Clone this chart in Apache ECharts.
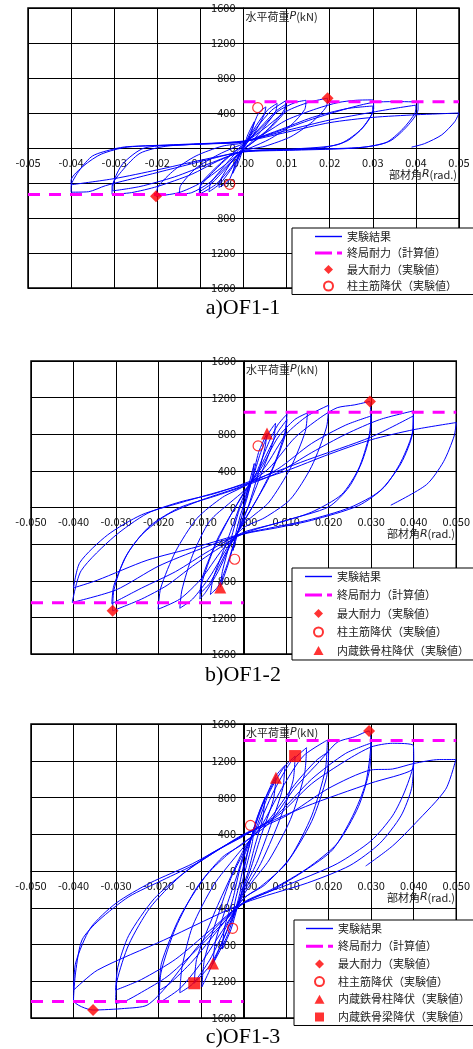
<!DOCTYPE html>
<html>
<head>
<meta charset="utf-8">
<script src="https://cdn.jsdelivr.net/npm/echarts@6/dist/echarts.min.js"></script>
<style>
html,body{margin:0;padding:0;background:#fff}
#chart{width:473px;height:1049px}
</style>
</head>
<body>
<div id="chart"></div>
<script>
// ---- tick labels ----
const xTicksA = ['-0.05','-0.04','-0.03','-0.02','-0.01','0.00','0.01','0.02','0.03','0.04','0.05'];
const xTicksBC = ['-0.050','-0.040','-0.030','-0.020','-0.010','0.000','0.010','0.020','0.030','0.040','0.050'];
const yTicks = ['-1600','-1200','-800','-400','0','400','800','1200','1600'];

// ---- series names ----
const nameTest = '実験結果';
const nameUlt = '終局耐力（計算値）';
const nameMax = '最大耐力（実験値）';
const nameBar = '柱主筋降伏（実験値）';
const nameCol = '内蔵鉄骨柱降伏（実験値）';
const nameBeam = '内蔵鉄骨梁降伏（実験値）';

const captions = ['a)OF1-1', 'b)OF1-2', 'c)OF1-3'];

// ---- calculated ultimate strength (kN) ----
const ultA = 530, ultB = 1040, ultC = 1420;

// ---- load–drift hysteresis, R (rad), P (kN) ----
const hystA = [
  [[0,0],[0.001,150],[0.0025,300],[0.002,200],[0.0008,60],[0,0],[-0.001,-140],[-0.0025,-290],[-0.002,-190],[-0.0008,-50],[0,10]],
  [[0.002,220],[0.0035,400],[0.0052,470],[0.0048,380],[0.0025,170],[0,0],[-0.002,-210],[-0.0035,-380],[-0.0057,-450],[-0.0053,-360],[-0.0028,-160],[0,20]],
  [[0.003,260],[0.0055,430],[0.0078,510],[0.0074,410],[0.004,190],[0.0015,50],[0,-10],[-0.003,-250],[-0.0055,-410],[-0.008,-500],[-0.0076,-400],[-0.004,-180],[-0.0015,-40],[0,30]],
  [[0.003,230],[0.0065,430],[0.0098,540],[0.0095,440],[0.006,230],[0.002,60],[0,-20],[-0.003,-230],[-0.0065,-420],[-0.0103,-530],[-0.0099,-430],[-0.006,-220],[-0.002,-40],[0,40]],
  [[0.004,240],[0.0075,420],[0.0098,500],[0.0094,400],[0.005,170],[0,-20],[-0.004,-230],[-0.0075,-410],[-0.0102,-500],[-0.0098,-400],[-0.005,-160],[0,40]],
  [[0.004,220],[0.008,420],[0.012,520],[0.0145,545],[0.0142,440],[0.011,260],[0.006,100],[0.002,10],[0,-30],[-0.004,-210],[-0.008,-400],[-0.012,-510],[-0.0149,-530],[-0.0146,-430],[-0.011,-230],[-0.006,-80],[-0.002,10],[0,50]],
  [[0.005,230],[0.01,420],[0.015,520],[0.0195,570],[0.0192,470],[0.016,300],[0.011,130],[0.005,20],[0,-35],[-0.005,-220],[-0.01,-400],[-0.015,-510],[-0.0203,-552],[-0.0198,-440],[-0.016,-250],[-0.011,-90],[-0.005,20],[0,60]],
  [[0.005,170],[0.01,320],[0.017,450],[0.022,520],[0.026,545],[0.03,550],[0.0302,450],[0.028,250],[0.024,80],[0.018,0],[0.008,-20],[0,-40],[-0.006,-150],[-0.012,-300],[-0.02,-440],[-0.026,-510],[-0.0305,-530],[-0.0305,-440],[-0.028,-250],[-0.024,-60],[-0.018,20],[-0.008,50],[0,70]],
  [[0.008,200],[0.016,350],[0.024,450],[0.03,480],[0.0298,390],[0.027,200],[0.022,40],[0.012,-10],[0,-40],[-0.008,-180],[-0.016,-330],[-0.024,-440],[-0.0303,-490],[-0.0302,-400],[-0.028,-180],[-0.023,0],[-0.012,40],[0,70]],
  [[0.008,190],[0.016,330],[0.024,450],[0.03,520],[0.035,530],[0.0405,520],[0.0405,440],[0.038,250],[0.034,80],[0.028,10],[0.015,-15],[0,-40],[-0.008,-130],[-0.016,-230],[-0.024,-330],[-0.032,-430],[-0.036,-500],[-0.04,-505],[-0.04,-440],[-0.038,-250],[-0.035,-90],[-0.03,-10],[-0.027,15],[-0.015,40],[0,80]],
  [[0.01,200],[0.02,320],[0.03,410],[0.036,460],[0.04,490],[0.0398,400],[0.037,220],[0.033,60],[0.026,0],[0.012,-25],[0,-45],[-0.01,-140],[-0.02,-250],[-0.03,-350],[-0.04,-420],[-0.04,-370],[-0.037,-200],[-0.033,-70],[-0.027,10],[-0.015,35],[0,75]],
  [[0.01,180],[0.02,290],[0.03,350],[0.04,380],[0.045,390],[0.05,400],[0.049,300],[0.046,150],[0.042,50],[0.039,10]]
];

const hystB = [
  [[0,0],[0.0015,300],[0.0025,480],[0.002,330],[0.0008,100],[0,-20],[-0.0015,-300],[-0.0025,-470],[-0.002,-320],[-0.0008,-90],[0,20]],
  [[0.002,300],[0.0035,600],[0.0055,810],[0.005,650],[0.003,300],[0.001,0],[0,-100],[-0.002,-350],[-0.0035,-600],[-0.0055,-870],[-0.005,-700],[-0.003,-350],[-0.001,-20],[0,80]],
  [[0.002,300],[0.004,600],[0.006,820],[0.0075,920],[0.007,730],[0.004,350],[0.0015,50],[0,-120],[-0.002,-350],[-0.004,-640],[-0.006,-860],[-0.0078,-950],[-0.0072,-780],[-0.004,-380],[-0.0015,-60],[0,120]],
  [[0.003,380],[0.006,720],[0.008,900],[0.0102,1020],[0.0097,820],[0.007,450],[0.003,80],[0,-150],[-0.003,-400],[-0.006,-700],[-0.009,-930],[-0.0103,-1000],[-0.0098,-820],[-0.007,-450],[-0.003,-80],[0,150]],
  [[0.004,450],[0.008,820],[0.0102,960],[0.0096,760],[0.006,330],[0.002,0],[0,-160],[-0.004,-480],[-0.008,-830],[-0.0103,-940],[-0.0097,-760],[-0.006,-330],[-0.002,0],[0,160]],
  [[0.004,420],[0.008,760],[0.012,960],[0.015,1033],[0.0145,830],[0.011,430],[0.006,60],[0.002,-100],[0,-180],[-0.004,-450],[-0.008,-760],[-0.012,-1000],[-0.015,-1100],[-0.0145,-900],[-0.012,-520],[-0.008,-150],[-0.003,60],[0,180]],
  [[0.005,440],[0.01,800],[0.015,1000],[0.02,1117],[0.0195,880],[0.016,450],[0.011,90],[0.005,-110],[0,-220],[-0.005,-460],[-0.01,-780],[-0.015,-1000],[-0.0201,-1111],[-0.0195,-880],[-0.016,-480],[-0.011,-120],[-0.005,110],[0,230]],
  [[0.006,430],[0.012,760],[0.018,980],[0.022,1090],[0.026,1120],[0.0297,1158],[0.0299,880],[0.028,520],[0.0248,225],[0.02,7],[0.01,-140],[0,-284],[-0.006,-450],[-0.012,-640],[-0.018,-850],[-0.024,-1000],[-0.0308,-1129],[-0.0305,-900],[-0.028,-560],[-0.024,-300],[-0.018,-80],[-0.01,80],[0,240]],
  [[0.008,420],[0.016,700],[0.024,900],[0.03,1000],[0.0295,780],[0.027,420],[0.023,140],[0.016,-50],[0.008,-170],[0,-270],[-0.008,-470],[-0.016,-700],[-0.024,-880],[-0.031,-1050],[-0.0305,-850],[-0.027,-480],[-0.022,-200],[-0.015,0],[-0.007,120],[0,230]],
  [[0.008,380],[0.016,600],[0.024,800],[0.032,960],[0.0399,1055],[0.0398,850],[0.037,500],[0.033,220],[0.027,20],[0.016,-140],[0.008,-220],[0,-290],[-0.01,-450],[-0.02,-640],[-0.03,-900],[-0.0403,-1037],[-0.0382,-690],[-0.0305,-320],[-0.0227,-66],[-0.015,60],[-0.007,150],[0,260]],
  [[0.015,520],[0.03,770],[0.0399,1000],[0.0398,830],[0.037,480],[0.032,180],[0.025,0],[0.015,-140],[0,-284],[-0.011,-430],[-0.0227,-576],[-0.0344,-794],[-0.04,-878],[-0.0385,-600],[-0.032,-300],[-0.024,-80],[-0.015,50],[0,250]],
  [[0.01,400],[0.02,580],[0.03,740],[0.04,850],[0.05,928],[0.0495,780],[0.047,500],[0.043,250],[0.0346,25]]
];

const hystC = [
  [[0,0],[0.0012,250],[0.0025,480],[0.002,300],[0.0007,60],[0,-60],[-0.0012,-300],[-0.0025,-500],[-0.002,-330],[-0.0007,-90],[0,60]],
  [[0.0015,300],[0.003,560],[0.005,800],[0.0045,580],[0.0025,250],[0.001,-20],[0,-150],[-0.0015,-400],[-0.003,-640],[-0.005,-850],[-0.0045,-620],[-0.0025,-300],[-0.001,0],[0,150]],
  [[0.002,380],[0.004,680],[0.0076,1016],[0.007,780],[0.004,370],[0.0015,0],[0,-180],[-0.002,-450],[-0.004,-720],[-0.0072,-1008],[-0.0066,-760],[-0.004,-380],[-0.0015,-40],[0,180]],
  [[0.002,400],[0.005,780],[0.0075,1030],[0.0097,1148],[0.0092,900],[0.006,450],[0.003,80],[0,-200],[-0.003,-540],[-0.006,-880],[-0.0098,-1261],[-0.0092,-960],[-0.006,-480],[-0.003,-80],[0,200]],
  [[0.003,480],[0.006,850],[0.0095,1130],[0.0121,1251],[0.0116,980],[0.008,500],[0.004,80],[0,-230],[-0.003,-560],[-0.0075,-1000],[-0.0116,-1222],[-0.011,-950],[-0.007,-470],[-0.003,-60],[0,230]],
  [[0.003,450],[0.007,860],[0.011,1180],[0.0148,1342],[0.0143,1050],[0.011,560],[0.006,120],[0.002,-120],[0,-260],[-0.004,-600],[-0.008,-970],[-0.012,-1230],[-0.015,-1325],[-0.0145,-1050],[-0.012,-600],[-0.007,-150],[-0.002,150],[0,260]],
  [[0.004,480],[0.009,900],[0.014,1250],[0.0197,1425],[0.0192,1100],[0.016,600],[0.011,150],[0.005,-150],[0,-300],[-0.005,-650],[-0.01,-1000],[-0.015,-1280],[-0.0199,-1436],[-0.0194,-1100],[-0.016,-620],[-0.011,-180],[-0.005,150],[0,300]],
  [[0.006,560],[0.012,940],[0.017,1200],[0.02,1300],[0.0195,1020],[0.016,540],[0.01,80],[0.004,-170],[0,-300],[-0.006,-640],[-0.012,-980],[-0.0175,-1230],[-0.0199,-1300],[-0.0193,-1000],[-0.015,-500],[-0.009,-60],[-0.004,170],[0,310]],
  [[0.006,520],[0.012,900],[0.018,1200],[0.022,1400],[0.026,1460],[0.0295,1524],[0.0299,1394],[0.0287,958],[0.0256,595],[0.0209,230],[0.0146,11],[0.0068,-207],[0,-350],[-0.006,-620],[-0.012,-900],[-0.018,-1150],[-0.024,-1320],[-0.028,-1420],[-0.0301,-1440],[-0.0298,-1200],[-0.027,-800],[-0.022,-400],[-0.015,-60],[-0.008,180],[0,380]],
  [[0.008,620],[0.016,1000],[0.024,1280],[0.03,1393],[0.0296,1100],[0.027,700],[0.022,300],[0.015,30],[0.007,-190],[0,-340],[-0.008,-650],[-0.016,-960],[-0.024,-1180],[-0.0301,-1297],[-0.0296,-1050],[-0.027,-700],[-0.021,-300],[-0.014,-20],[-0.007,200],[0,390]],
  [[0.008,600],[0.016,950],[0.024,1200],[0.03,1350],[0.035,1390],[0.0399,1366],[0.04,1200],[0.038,880],[0.035,600],[0.03,330],[0.022,80],[0.012,-120],[0,-350],[-0.01,-780],[-0.018,-1250],[-0.0227,-1460],[-0.028,-1496],[-0.0354,-1513],[-0.04,-1406],[-0.0395,-1100],[-0.038,-750],[-0.034,-535],[-0.027,-280],[-0.019,-98],[-0.011,84],[0,400]],
  [[0.0146,702],[0.03,958],[0.0397,1103],[0.04,1196],[0.0395,900],[0.037,600],[0.032,300],[0.025,60],[0.015,-130],[0,-350],[-0.0188,-753],[-0.0344,-1080],[-0.04,-1297],[-0.0395,-1000],[-0.036,-620],[-0.03,-350],[-0.022,-130],[-0.012,80],[0,390]],
  [[0.01,600],[0.02,900],[0.03,1100],[0.035,1110],[0.04,1170],[0.046,1213],[0.0499,1213],[0.0475,889],[0.0405,526],[0.035,272],[0.0287,54]]
];

// ---- experimental event points ----
const maxA = [[0.0195,570],[-0.0203,-552]];
const barA = [[0.0033,461],[-0.0032,-415]];

const maxB = [[0.0297,1158],[-0.0308,-1129]];
const barB = [[0.0034,673],[-0.0021,-565]];
const colB = [[0.0055,808],[-0.0055,-874]];

const maxC = [[0.0295,1524],[-0.0354,-1513]];
const barC = [[0.0016,497],[-0.0026,-624]];
const colC = [[0.0076,1016],[-0.0072,-1008]];
const beamC = [[0.0121,1251],[-0.0116,-1222]];

// ---- layout ----
const grids = [
  {left: 28, top: 8, width: 431, height: 280},
  {left: 31, top: 361, width: 426, height: 293},
  {left: 31, top: 724, width: 426, height: 294}
];
const captionY = [308, 675, 1037];
const legendBoxes = [
  {left: 292, top: 228, padding: [3, 60, 3, 23], itemGap: 5.5},
  {left: 292, top: 568, padding: [3, 40, 4, 13], itemGap: 7.5},
  {left: 294, top: 920, padding: [3, 40, 3, 12], itemGap: 6.7}
];

// legend glyphs
const ICON_LINE = 'path://M0,0 H27 V1.4 H0 Z';
const ICON_DASH = 'path://M0,0 H17 V3 H0 Z M22,0 H27 V3 H22 Z';
const ICON_DIAMOND = 'path://M5,0 L10,5 L5,10 L0,5 Z';
const ICON_TRIANGLE = 'path://M5,0 L10,9 L0,9 Z';
const ICON_SQUARE = 'path://M0,0 H10 V10 H0 Z';

const FONT_JP = '"Noto Sans CJK JP", "Noto Sans", sans-serif';
const FONT_SERIF = '"Liberation Serif", "Times New Roman", serif';

function flatten(cycles) {
  const out = [];
  cycles.forEach(c => c.forEach(p => out.push(p)));
  return out;
}

function xAxisFor(i, labels) {
  // axis line drawn through P = 0 (the y range is symmetric about zero)
  return {
    type: 'value', gridIndex: i, min: -0.05, max: 0.05, interval: 0.01,
    position: 'bottom', offset: -grids[i].height / 2,
    axisLine: {onZero: false, lineStyle: {color: '#000', width: 1}},
    axisTick: {show: true, length: 4, lineStyle: {color: '#000'}},
    axisLabel: {
      margin: 9, fontSize: 11, color: '#111', fontFamily: FONT_JP,
      showMinLabel: true, showMaxLabel: true,
      formatter: v => labels[Math.round((v + 0.05) / 0.01)]
    },
    splitLine: {show: true, lineStyle: {color: '#000', width: 1}}
  };
}

function yAxisFor(i) {
  // axis line drawn through R = 0 (the x range is symmetric about zero)
  return {
    type: 'value', gridIndex: i, min: -1600, max: 1600, interval: 400,
    position: 'left', offset: -grids[i].width / 2,
    axisLine: {onZero: false, lineStyle: {color: '#000', width: 1}},
    axisTick: {show: true, length: 4, lineStyle: {color: '#000'}},
    axisLabel: {
      margin: 8, fontSize: 11, color: '#111', fontFamily: FONT_JP,
      showMinLabel: true, showMaxLabel: true,
      formatter: v => yTicks[Math.round((v + 1600) / 400)]
    },
    splitLine: {show: true, lineStyle: {color: '#000', width: 1}}
  };
}

function panelSeries(i, hyst, ult, maxPts, barPts, colPts, beamPts) {
  const s = [];
  s.push({
    type: 'line', name: nameTest, xAxisIndex: i, yAxisIndex: i,
    data: flatten(hyst), symbol: 'none', smooth: 0.25, z: 2,
    lineStyle: {color: '#0000ff', width: 1}, itemStyle: {color: '#0000ff'}
  });
  const ultStyle = {color: '#ff00ff', width: 3, type: [12, 9]};
  s.push({
    type: 'line', name: nameUlt, xAxisIndex: i, yAxisIndex: i,
    data: [[0, ult], [0.05, ult]], symbol: 'none', z: 3,
    lineStyle: ultStyle, itemStyle: {color: '#ff00ff'}
  });
  s.push({
    type: 'line', name: nameUlt, xAxisIndex: i, yAxisIndex: i,
    data: [[-0.05, -ult], [0, -ult]], symbol: 'none', z: 3,
    lineStyle: ultStyle, itemStyle: {color: '#ff00ff'}
  });
  s.push({
    type: 'scatter', name: nameMax, xAxisIndex: i, yAxisIndex: i,
    data: maxPts, symbol: 'diamond', symbolSize: 12, z: 5,
    itemStyle: {color: '#ff0000'}
  });
  s.push({
    type: 'scatter', name: nameBar, xAxisIndex: i, yAxisIndex: i,
    data: barPts, symbol: 'circle', symbolSize: 10, z: 5,
    itemStyle: {color: 'rgba(255,255,255,0)', borderColor: '#ff0000', borderWidth: 1.2}
  });
  if (colPts) s.push({
    type: 'scatter', name: nameCol, xAxisIndex: i, yAxisIndex: i,
    data: colPts, symbol: 'triangle', symbolSize: 12, z: 5,
    itemStyle: {color: '#ff0000'}
  });
  if (beamPts) s.push({
    type: 'scatter', name: nameBeam, xAxisIndex: i, yAxisIndex: i,
    data: beamPts, symbol: 'rect', symbolSize: 12, z: 5,
    itemStyle: {color: '#ff0000'}
  });
  return s;
}

const legendIcons = {};
legendIcons[nameTest] = ICON_LINE;
legendIcons[nameUlt] = ICON_DASH;
legendIcons[nameMax] = ICON_DIAMOND;
legendIcons[nameCol] = ICON_TRIANGLE;
legendIcons[nameBeam] = ICON_SQUARE;

function legendFor(i, names) {
  const b = legendBoxes[i];
  return {
    data: names.map(n => legendIcons[n] ? {name: n, icon: legendIcons[n]} : {name: n}),
    orient: 'vertical', left: b.left, top: b.top,
    padding: b.padding, itemGap: b.itemGap, itemWidth: 27, itemHeight: 9,
    symbolKeepAspect: true,
    backgroundColor: '#fff', borderColor: '#000', borderWidth: 1,
    selectedMode: false, z: 20,
    textStyle: {fontFamily: FONT_JP, fontSize: 11, color: '#222'}
  };
}

const graphics = [];
grids.forEach((g, i) => {
  const cy = g.top + g.height / 2;
  const cx = g.left + g.width / 2;
  graphics.push({
    type: 'text', left: cx + 2, top: g.top + 3, z: 30,
    style: {
      text: '水平荷重{i|P}(kN)', fill: '#222', font: '11px ' + FONT_JP,
      rich: {i: {fontStyle: 'italic', fontFamily: '"DejaVu Sans", sans-serif', fontSize: 11, fill: '#222'}}
    }
  });
  graphics.push({
    type: 'text', right: 473 - (g.left + g.width) + 2, top: cy + 21, z: 30,
    style: {
      text: '部材角{i|R}(rad.)', fill: '#222', font: '11px ' + FONT_JP,
      rich: {i: {fontStyle: 'italic', fontFamily: '"DejaVu Sans", sans-serif', fontSize: 11, fill: '#222'}}
    }
  });
  graphics.push({
    type: 'text', x: 243, y: captionY[i], z: 30,
    style: {
      text: captions[i], fill: '#000', font: '22px ' + FONT_SERIF,
      textAlign: 'center', textVerticalAlign: 'middle'
    }
  });
});

const chart = echarts.init(document.getElementById('chart'), null, {renderer: 'canvas'});
chart.setOption({
  animation: false,
  backgroundColor: '#fff',
  grid: grids.map(g => Object.assign({show: true, borderColor: '#000', borderWidth: 1.5, containLabel: false}, g)),
  xAxis: [xAxisFor(0, xTicksA), xAxisFor(1, xTicksBC), xAxisFor(2, xTicksBC)],
  yAxis: [yAxisFor(0), yAxisFor(1), yAxisFor(2)],
  legend: [
    legendFor(0, [nameTest, nameUlt, nameMax, nameBar]),
    legendFor(1, [nameTest, nameUlt, nameMax, nameBar, nameCol]),
    legendFor(2, [nameTest, nameUlt, nameMax, nameBar, nameCol, nameBeam])
  ],
  series: [].concat(
    panelSeries(0, hystA, ultA, maxA, barA, null, null),
    panelSeries(1, hystB, ultB, maxB, barB, colB, null),
    panelSeries(2, hystC, ultC, maxC, barC, colC, beamC)
  ),
  graphic: graphics
});
</script>
</body>
</html>
